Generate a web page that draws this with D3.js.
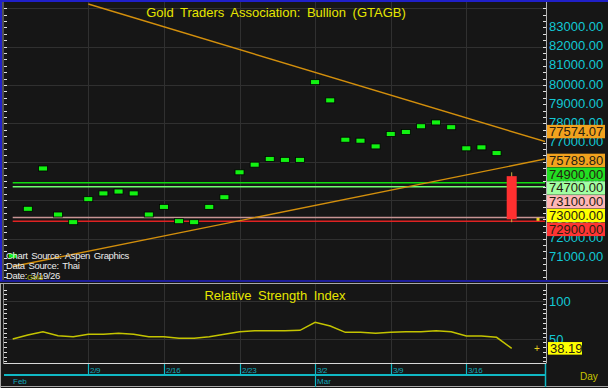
<!DOCTYPE html>
<html>
<head>
<meta charset="utf-8">
<script src="https://cdn.jsdelivr.net/npm/d3@7"></script>
<style>
  body { margin: 0; background: #161616; }
  svg { display: block; font-family: Arial, "Liberation Sans", sans-serif; }
</style>
</head>
<body>
<script>
// trading days shown (Feb 2 .. Mar 19)
const dates = ["2/2","2/3","2/4","2/5","2/6","2/9","2/10","2/11","2/12","2/13",
  "2/16","2/17","2/18","2/19","2/20","2/23","2/24","2/25","2/26","2/27",
  "3/2","3/3","3/4","3/5","3/6","3/9","3/10","3/11","3/12","3/13",
  "3/16","3/17","3/18","3/19"];

// daily price (THB), last day is a full candle
const closes = [71100, 73550, 75650, 73250, 72850, 74050, 74350, 74450, 74350, 73250,
  73650, 72900, 72850, 73650, 74150, 75450, 75850, 76150, 76100, 76100,
  80150, 79200, 77150, 77100, 76800, 77450, 77550, 77850, 78050, 77800,
  76700, 76750, 76450, 73000];
const lastCandle = { open: 75250, high: 75450, low: 72850, close: 73000 };

const rsi = [50.4, 55.5, 59.9, 54.7, 53.4, 56.5, 56.5, 57.8, 56.5, 53.4,
  53.4, 51.3, 51.3, 53.4, 56.5, 59.9, 61.2, 61.2, 61.2, 61.7,
  72.2, 67.4, 59.1, 59.1, 57.8, 59.1, 59.9, 59.9, 61.2, 59.9,
  54.3, 54.3, 52.6, 38.19];

// trend lines: start point and value at the last bar
const trendDown = { startIdx: 5, startVal: 84224, lastVal: 77574.07 };
const trendUp = { startIdx: 0, startVal: 70542, lastVal: 75789.80 };

// horizontal levels
const levelValues = [74900, 74700, 73100, 72900];
const levelColors = ["#10dc10", "#70ff70", "#c89494", "#e02222"];

const weekStarts = ["2/9", "2/16", "2/23", "3/2", "3/9", "3/16"];
const priceTicks = d3.range(71000, 84000, 1000);
const rsiTicks = [50, 100];

const W = 608, H = 388;
const plotR = 545;
const main = { top: 2, bottom: 280 };
const low = { top: 284, bottom: 363.5 };

const x = d3.scaleLinear().domain([0, dates.length - 1]).range([12.7, 511.7]);
const y = d3.scaleLinear().domain([72000, 84000]).range([238.5, 8.3]);
const yr = d3.scaleLinear().domain([50, 100]).range([339.3, 301]);

const svg = d3.select("body").append("svg")
    .attr("width", W)
    .attr("height", H);

svg.append("rect").attr("width", W).attr("height", H).attr("fill", "#161616");

const defs = svg.append("defs");
defs.append("clipPath").attr("id", "clipMain")
  .append("rect").attr("x", 3).attr("y", main.top).attr("width", plotR - 3).attr("height", main.bottom - main.top);
defs.append("clipPath").attr("id", "clipLow")
  .append("rect").attr("x", 3).attr("y", low.top).attr("width", plotR - 3).attr("height", low.bottom - low.top);

// ---- grid
const grid = svg.append("g").attr("stroke", "#303030").attr("stroke-width", 1);
weekStarts.forEach(d => {
  const gx = Math.round(x(dates.indexOf(d))) + 0.5;
  grid.append("line").attr("x1", gx).attr("x2", gx).attr("y1", main.top).attr("y2", main.bottom);
  grid.append("line").attr("x1", gx).attr("x2", gx).attr("y1", low.top).attr("y2", low.bottom);
});
d3.range(72000, 84001, 2000).forEach(v => {
  const gy = Math.round(y(v)) + 0.5;
  grid.append("line").attr("x1", 4).attr("x2", plotR).attr("y1", gy).attr("y2", gy);
});
rsiTicks.forEach(v => {
  const gy = Math.round(yr(v)) + 0.5;
  grid.append("line").attr("x1", 4).attr("x2", plotR).attr("y1", gy).attr("y2", gy);
});

// ---- title
svg.append("text")
    .attr("x", 276).attr("y", 17)
    .attr("text-anchor", "middle")
    .attr("fill", "#e6e600")
    .attr("font-size", 13)
    .attr("word-spacing", 3)
    .text("Gold Traders Association: Bullion (GTAGB)");

// ---- main panel content
const gm = svg.append("g").attr("clip-path", "url(#clipMain)");

levelValues.forEach((v, i) => {
  gm.append("line")
      .attr("x1", x(0)).attr("x2", plotR)
      .attr("y1", y(v)).attr("y2", y(v))
      .attr("stroke", levelColors[i])
      .attr("stroke-width", 1.5);
});

function trendPath(t) {
  const last = dates.length - 1;
  const slope = (t.lastVal - t.startVal) / (last - t.startIdx);
  const endIdx = x.invert(plotR + 5);
  return [[x(t.startIdx), y(t.startVal)], [x(endIdx), y(t.startVal + slope * (endIdx - t.startIdx))]];
}
[trendDown, trendUp].forEach(t => {
  gm.append("path")
      .attr("d", d3.line()(trendPath(t)))
      .attr("stroke", "#d38f0c")
      .attr("stroke-width", 1.4)
      .attr("fill", "none");
});

// daily markers
gm.selectAll("rect.day")
  .data(closes.slice(0, -1))
  .join("rect")
    .attr("class", "day")
    .attr("x", (d, i) => x(i) - 4.5)
    .attr("y", d => y(d) - 2.5)
    .attr("width", 9)
    .attr("height", 5)
    .attr("fill", "#12f212")
    .attr("stroke", "#000")
    .attr("stroke-width", 0.8);

// last candle
const li = dates.length - 1;
gm.append("line")
    .attr("x1", x(li)).attr("x2", x(li))
    .attr("y1", y(lastCandle.high)).attr("y2", y(lastCandle.low))
    .attr("stroke", "#c8b040").attr("stroke-width", 1);
gm.append("rect")
    .attr("x", x(li) - 5)
    .attr("y", y(lastCandle.open))
    .attr("width", 10)
    .attr("height", y(lastCandle.close) - y(lastCandle.open))
    .attr("fill", "#ff3030");

// last price marker
svg.append("rect")
    .attr("x", 536.5).attr("y", y(lastCandle.close) - 1.5)
    .attr("width", 3).attr("height", 3)
    .attr("fill", "#e8d020");

// source text
const src = svg.append("g").attr("fill", "#ececec").attr("font-size", 9.5)
    .attr("letter-spacing", -0.35).attr("word-spacing", 1.5);
["Chart Source: Aspen Graphics", "Data Source: Thai", "Date: 3/19/26"].forEach((t, i) => {
  src.append("text").attr("x", 6).attr("y", 258.5 + i * 10.4).text(t);
});
svg.append("text").attr("x", 27).attr("y", 279.5).attr("font-size", 7.5)
    .attr("fill", "#b8b800").text("Gold");

// ---- RSI panel
svg.append("text")
    .attr("x", 275).attr("y", 300)
    .attr("text-anchor", "middle")
    .attr("fill", "#e6e600")
    .attr("font-size", 13)
    .attr("word-spacing", 3)
    .text("Relative Strength Index");

svg.append("g").attr("clip-path", "url(#clipLow)")
  .append("path")
    .datum(rsi)
    .attr("d", d3.line().x((d, i) => x(i)).y(d => yr(d)))
    .attr("fill", "none")
    .attr("stroke", "#c4c400")
    .attr("stroke-width", 1.5);

svg.append("text").attr("x", 534).attr("y", yr(rsi[li]) + 3.5)
    .attr("font-size", 10).attr("fill", "#e8d020").text("+");

// ---- frames
svg.append("line").attr("x1", 0).attr("x2", W).attr("y1", 1).attr("y2", 1)
    .attr("stroke", "#2020c8").attr("stroke-width", 2);
svg.append("line").attr("x1", 1).attr("x2", 1).attr("y1", 0).attr("y2", 281)
    .attr("stroke", "#2020c8").attr("stroke-width", 2);
svg.append("line").attr("x1", 3).attr("x2", 3).attr("y1", 2).attr("y2", 280)
    .attr("stroke", "#8c8c8c").attr("stroke-width", 1);
svg.append("line").attr("x1", 0).attr("x2", W).attr("y1", 281).attr("y2", 281)
    .attr("stroke", "#2020c8").attr("stroke-width", 1.5);
svg.append("line").attr("x1", 0).attr("x2", W).attr("y1", 283.5).attr("y2", 283.5)
    .attr("stroke", "#a8a8a8").attr("stroke-width", 1);
svg.append("line").attr("x1", 0.5).attr("x2", 0.5).attr("y1", 283).attr("y2", H)
    .attr("stroke", "#a8a8a8").attr("stroke-width", 1);
svg.append("line").attr("x1", 3.5).attr("x2", 3.5).attr("y1", 284).attr("y2", 364)
    .attr("stroke", "#8c8c8c").attr("stroke-width", 1);
svg.append("line").attr("x1", 0).attr("x2", W).attr("y1", 386.5).attr("y2", 386.5)
    .attr("stroke", "#a8a8a8").attr("stroke-width", 1);

// ---- left / right minor ticks
const ticks = svg.append("g").attr("stroke", "#e0e0e0").attr("stroke-width", 1);
d3.range(70000, 84400, 1000 / 3).forEach(v => {
  const ty = Math.round(y(v)) + 0.5;
  if (ty < main.top + 2 || ty > main.bottom - 1) return;
  ticks.append("line").attr("x1", 4).attr("x2", 7).attr("y1", ty).attr("y2", ty);
  ticks.append("line").attr("x1", plotR - 2).attr("x2", plotR + 1).attr("y1", ty).attr("y2", ty);
});
d3.range(15, 125, 6.25).forEach(v => {
  const ty = Math.round(yr(v)) + 0.5;
  if (ty < low.top + 2 || ty > low.bottom - 1) return;
  ticks.append("line").attr("x1", 4).attr("x2", 7).attr("y1", ty).attr("y2", ty);
  ticks.append("line").attr("x1", plotR - 2).attr("x2", plotR + 1).attr("y1", ty).attr("y2", ty);
});
svg.append("line").attr("x1", plotR + 1.5).attr("x2", plotR + 1.5).attr("y1", main.top).attr("y2", main.bottom)
    .attr("stroke", "#b0b0b0");
svg.append("line").attr("x1", plotR + 1.5).attr("x2", plotR + 1.5).attr("y1", low.top).attr("y2", low.bottom)
    .attr("stroke", "#b0b0b0");

// ---- right axis labels
const axisCol = "#12c8d4";
svg.append("g").attr("fill", axisCol).attr("font-size", 13)
  .selectAll("text").data(priceTicks).join("text")
    .attr("x", 549).attr("y", d => y(d) + 3.5)
    .text(d => d3.format(".2f")(d));
svg.append("g").attr("fill", axisCol).attr("font-size", 13)
  .selectAll("text").data(rsiTicks).join("text")
    .attr("x", 549).attr("y", d => yr(d) + 5)
    .text(d => d);

// ---- value boxes with collision spreading
const boxes = [
  { v: trendDown.lastVal, fill: "#f2a21e" },
  { v: trendUp.lastVal, fill: "#f2a21e" },
  { v: levelValues[0], fill: "#22de22" },
  { v: levelValues[1], fill: "#a2ffa2" },
  { v: levelValues[2], fill: "#ffb6b6" },
  { v: lastCandle.close, fill: "#ffff00" },
  { v: levelValues[3], fill: "#ff3434" }
];
const bh = 13.8;
boxes.forEach(b => b.y0 = y(b.v));
boxes.sort((a, b) => a.y0 - b.y0);
let groups = boxes.map(b => ({ items: [b], top: b.y0 }));
let merged = true;
while (merged) {
  merged = false;
  for (let i = 0; i < groups.length - 1; i++) {
    const a = groups[i], b = groups[i + 1];
    if (a.top + a.items.length * bh > b.top) {
      const items = a.items.concat(b.items);
      groups.splice(i, 2, { items, top: d3.mean(items, d => d.y0) - 4 - (items.length - 1) * bh / 2 });
      merged = true;
      break;
    }
  }
}
groups.forEach(g => g.items.forEach((b, i) => b.y = g.top + i * bh));

const bx = svg.append("g").selectAll("g").data(boxes).join("g")
    .attr("transform", d => `translate(547,${d.y - 6.7})`);
bx.append("rect").attr("width", 58).attr("height", 13.4).attr("fill", d => d.fill);
bx.append("text").attr("x", 2).attr("y", 11.2).attr("font-size", 13)
    .attr("fill", "#262010").text(d => d3.format(".2f")(d.v));

const rb = svg.append("g").attr("transform", `translate(548,${yr(rsi[li]) - 6.3})`);
rb.append("rect").attr("width", 34).attr("height", 12.6).attr("fill", "#ffff00");
rb.append("text").attr("x", 2).attr("y", 10.8).attr("font-size", 13).attr("fill", "#262010")
    .text(d3.format(".2f")(rsi[li]));

// ---- date axis
svg.append("line").attr("x1", 4).attr("x2", plotR + 1).attr("y1", 363.5).attr("y2", 363.5)
    .attr("stroke", "#d8d8d8");
svg.append("line").attr("x1", 4).attr("x2", plotR + 1).attr("y1", 375).attr("y2", 375)
    .attr("stroke", "#10b8c4").attr("stroke-width", 2);
svg.append("line").attr("x1", plotR + 0.5).attr("x2", plotR + 0.5).attr("y1", 364).attr("y2", 387)
    .attr("stroke", "#10b8c4").attr("stroke-width", 1.5);
const xa = svg.append("g");
weekStarts.forEach(d => {
  const gx = Math.round(x(dates.indexOf(d))) + 0.5;
  xa.append("line").attr("x1", gx).attr("x2", gx).attr("y1", 364).attr("y2", d === "3/2" ? 387 : 375)
      .attr("stroke", "#10b8c4").attr("stroke-width", 1.2);
  xa.append("text").attr("x", gx + 1.5).attr("y", 373).attr("font-size", 8)
      .attr("fill", "#12a8b8").attr("letter-spacing", -0.3).text(d);
});
xa.append("text").attr("x", 13).attr("y", 384).attr("font-size", 8).attr("fill", "#12a8b8").text("Feb");
xa.append("text").attr("x", x(dates.indexOf("3/2")) + 2).attr("y", 384).attr("font-size", 8)
    .attr("fill", "#12a8b8").text("Mar");
svg.append("text").attr("x", 580).attr("y", 380).attr("font-size", 10)
    .attr("fill", "#c8c400").text("Day");
</script>
</body>
</html>
